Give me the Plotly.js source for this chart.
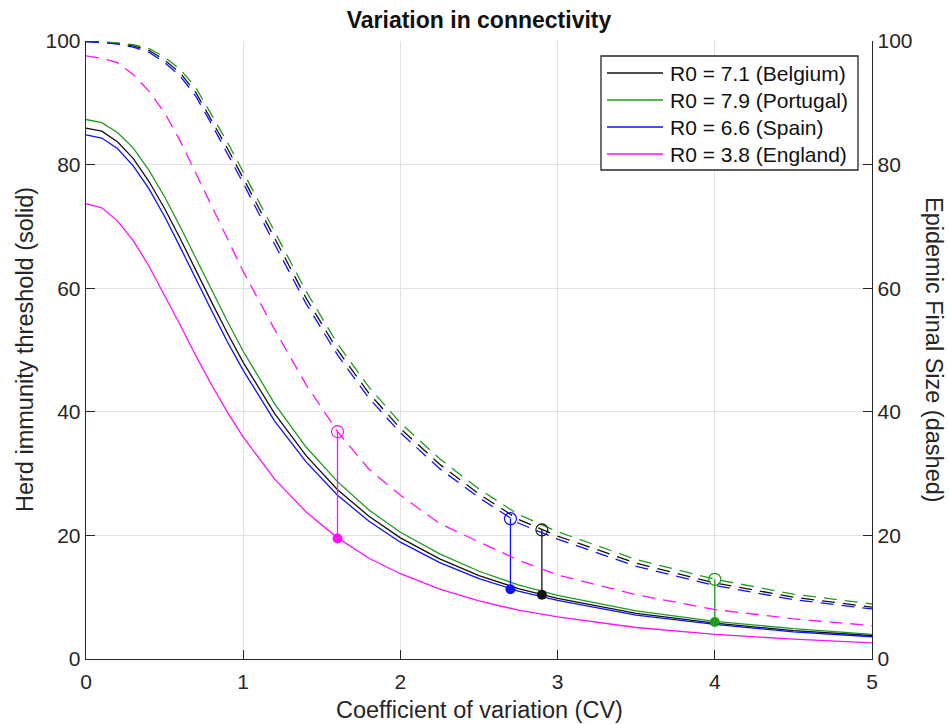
<!DOCTYPE html>
<html>
<head>
<meta charset="utf-8">
<script src="https://cdn.plot.ly/plotly-3.0.1.min.js"></script>
<style>html,body{margin:0;padding:0;background:#fff;}#chart{width:949px;height:724px;}</style>
</head>
<body>
<div id="chart"></div>
<script>
// Coefficient of variation (x values)
const cv = [0,0.1,0.2,0.3,0.4,0.5,0.6,0.7,0.8,0.9,1.0,1.2,1.4,1.6,1.8,2.0,2.25,2.5,2.75,3.0,3.5,4.0,4.5,5.0];

// Herd immunity threshold (solid), %
const hitBelgium  = [85.9,85.4,83.7,81.0,77.3,72.9,68.0,62.8,57.7,52.7,48.0,39.7,32.9,27.4,23.1,19.6,16.2,13.5,11.4,9.8,7.4,5.8,4.6,3.8];
const hitPortugal = [87.3,86.8,85.2,82.7,79.1,74.8,69.9,64.8,59.6,54.6,49.8,41.3,34.3,28.7,24.1,20.5,17.0,14.2,12.0,10.3,7.8,6.1,4.9,4.0];
const hitSpain    = [84.8,84.3,82.6,79.8,76.1,71.6,66.6,61.4,56.3,51.3,46.7,38.5,31.9,26.5,22.3,18.9,15.6,13.0,11.0,9.5,7.1,5.6,4.4,3.6];
const hitEngland  = [73.7,73.0,70.9,67.7,63.6,58.9,54.0,49.0,44.3,39.9,35.9,29.1,23.8,19.6,16.3,13.8,11.3,9.4,7.9,6.8,5.1,4.0,3.2,2.6];

// Epidemic final size (dashed), %
const fsBelgium  = [99.9,99.8,99.6,99.2,98.5,96.9,94.8,91.6,87.2,82.6,77.8,68.0,58.4,50.0,43.0,37.3,31.5,26.7,22.6,19.9,15.5,12.3,10.0,8.4];
const fsPortugal = [100.0,99.9,99.7,99.4,98.8,97.4,95.4,92.4,88.1,83.6,78.8,69.1,59.5,51.0,44.0,38.2,32.4,27.5,23.4,20.6,16.1,12.9,10.5,8.9];
const fsSpain    = [99.9,99.8,99.5,99.0,98.2,96.5,94.3,91.0,86.5,81.8,77.0,67.1,57.5,49.2,42.2,36.6,30.8,26.1,22.0,19.4,15.0,11.9,9.6,8.1];
const fsEngland  = [97.6,97.2,96.5,94.6,91.9,88.4,83.8,78.6,73.3,68.0,62.7,53.3,44.4,36.8,30.7,26.5,21.9,18.9,16.0,13.6,10.4,8.0,6.5,5.4];

// Highlighted points per country
const countries = ["Belgium","Portugal","Spain","England"];
const r0Labels  = ["R0 = 7.1 (Belgium)","R0 = 7.9 (Portugal)","R0 = 6.6 (Spain)","R0 = 3.8 (England)"];
const markCV    = [2.9, 4.0, 2.7, 1.6];
const markHIT   = [10.4, 6.0, 11.3, 19.5];
const markFS    = [20.9, 12.9, 22.7, 36.8];

const colors = ["#111111", "#1e9a1e", "#1010ff", "#ff10ff"];
const hits = [hitBelgium, hitPortugal, hitSpain, hitEngland];
const fss  = [fsBelgium, fsPortugal, fsSpain, fsEngland];

const FONT = '"Liberation Sans", Arial, Helvetica, sans-serif';
const traces = [];
for (let i = 0; i < 4; i++) {
  traces.push({x: cv, y: hits[i], type: 'scatter', mode: 'lines', name: r0Labels[i],
    line: {color: colors[i], width: 1.3}, showlegend: false, hoverinfo: 'skip'});
}
for (let i = 0; i < 4; i++) {
  traces.push({x: cv, y: fss[i], type: 'scatter', mode: 'lines', yaxis: 'y2',
    line: {color: colors[i], width: 1.3, dash: '13px,8px'}, showlegend: false, hoverinfo: 'skip'});
}
for (let i = 0; i < 4; i++) {
  traces.push({x: [markCV[i], markCV[i]], y: [markHIT[i], markFS[i]], type: 'scatter', mode: 'lines',
    line: {color: colors[i], width: 1.3}, showlegend: false, hoverinfo: 'skip'});
  traces.push({x: [markCV[i]], y: [markHIT[i]], type: 'scatter', mode: 'markers',
    marker: {color: colors[i], size: 10, symbol: 'circle'}, showlegend: false, hoverinfo: 'skip'});
  traces.push({x: [markCV[i]], y: [markFS[i]], type: 'scatter', mode: 'markers', yaxis: 'y2',
    marker: {color: colors[i], size: 12, symbol: 'circle-open', line: {width: 1.2, color: colors[i]}},
    showlegend: false, hoverinfo: 'skip'});
}

const axisCommon = {
  ticks: 'inside', ticklen: 9, tickwidth: 1, tickcolor: '#262626',
  showline: true, linecolor: '#262626', linewidth: 1.3,
  zeroline: false, tickfont: {family: FONT, size: 21, color: '#262626'}
};

// Manual legend (MATLAB style box) in paper coordinates
const px2x = p => (p - 86) / 786;
const py2y = p => (659 - p) / 618;
const shapes = [{type: 'rect', xref: 'paper', yref: 'paper', x0: px2x(601), x1: px2x(858),
  y0: py2y(170), y1: py2y(56), line: {color: '#262626', width: 1.3}, fillcolor: '#fff', layer: 'above'}];
const annotations = [
  {text: 'Coefficient of variation (CV)', xref: 'paper', yref: 'paper', x: 0.5, y: -0.0825,
    xanchor: 'center', yanchor: 'middle', showarrow: false, font: {family: FONT, size: 23.5, color: '#262626'}},
  {text: 'Herd immunity threshold (solid)', xref: 'paper', yref: 'paper', x: -0.0776, y: 0.5,
    xanchor: 'center', yanchor: 'middle', textangle: -90, showarrow: false, font: {family: FONT, size: 23.5, color: '#262626'}},
  {text: 'Epidemic Final Size (dashed)', xref: 'paper', yref: 'paper', x: 1.0789, y: 0.5,
    xanchor: 'center', yanchor: 'middle', textangle: 90, showarrow: false, font: {family: FONT, size: 23.5, color: '#262626'}}
];
const rowPx = [73, 100, 127, 154];
for (let i = 0; i < 4; i++) {
  shapes.push({type: 'line', xref: 'paper', yref: 'paper', x0: px2x(607), x1: px2x(663),
    y0: py2y(rowPx[i]), y1: py2y(rowPx[i]), line: {color: colors[i], width: 1.3}, layer: 'above'});
  annotations.push({text: r0Labels[i], xref: 'paper', yref: 'paper', x: px2x(668), y: py2y(rowPx[i]),
    xanchor: 'left', yanchor: 'middle', showarrow: false, font: {family: FONT, size: 21, color: '#111'}});
}

const layout = {
  width: 949, height: 724,
  margin: {l: 86, r: 77, t: 41, b: 65, pad: 0},
  paper_bgcolor: '#fff', plot_bgcolor: '#fff',
  font: {family: FONT, color: '#262626'},
  showlegend: false,
  title: {text: '<b>Variation in connectivity</b>', font: {family: FONT, size: 23, color: '#111'},
    xref: 'paper', x: 0.5, xanchor: 'center', yref: 'container', y: 0.972, yanchor: 'middle'},
  xaxis: Object.assign({}, axisCommon, {range: [0, 5], dtick: 1, tick0: 0, ticklabelstandoff: 3,
    showgrid: true, gridcolor: '#e2e2e2', gridwidth: 1}),
  yaxis: Object.assign({}, axisCommon, {range: [0, 100], dtick: 20, tick0: 0,
    showgrid: true, gridcolor: '#e2e2e2', gridwidth: 1}),
  yaxis2: Object.assign({}, axisCommon, {range: [0, 100], dtick: 20, tick0: 0,
    overlaying: 'y', side: 'right', showgrid: false}),
  shapes: shapes,
  annotations: annotations
};

Plotly.newPlot('chart', traces, layout, {displayModeBar: false, staticPlot: true});
</script>
</body>
</html>
